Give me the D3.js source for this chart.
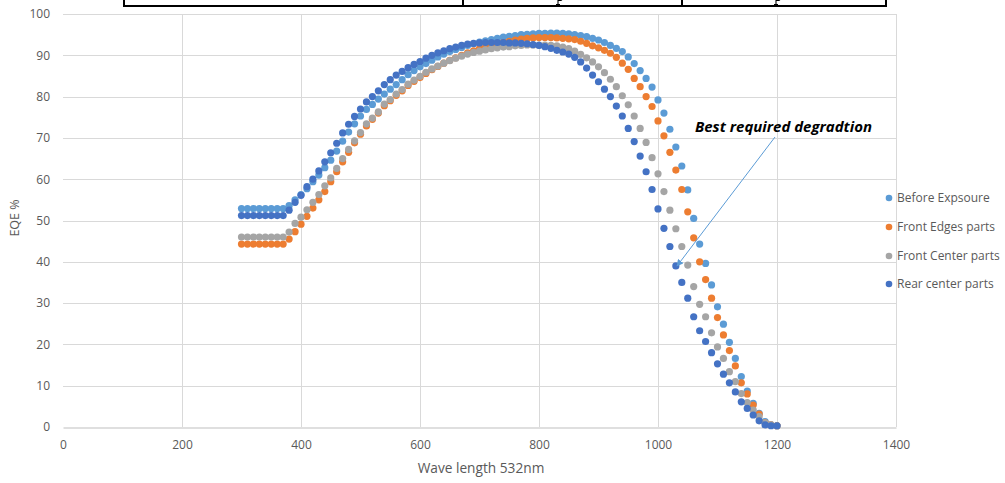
<!DOCTYPE html>
<html>
<head>
<meta charset="utf-8">
<script src="https://cdn.jsdelivr.net/npm/d3@7"></script>
<style>
  body { margin: 0; background: #fff; }
  svg { display: block; }
</style>
</head>
<body>
<div id="chart"></div>
<script>
// wavelengths sampled every 10 nm
const waveLengths = [
  300, 310, 320, 330, 340, 350, 360, 370, 380, 390,
  400, 410, 420, 430, 440, 450, 460, 470, 480, 490,
  500, 510, 520, 530, 540, 550, 560, 570, 580, 590,
  600, 610, 620, 630, 640, 650, 660, 670, 680, 690,
  700, 710, 720, 730, 740, 750, 760, 770, 780, 790,
  800, 810, 820, 830, 840, 850, 860, 870, 880, 890,
  900, 910, 920, 930, 940, 950, 960, 970, 980, 990,
  1000, 1010, 1020, 1030, 1040, 1050, 1060, 1070, 1080, 1090,
  1100, 1110, 1120, 1130, 1140, 1150, 1160, 1170, 1180, 1190,
  1200
];

const beforeExposure = [
  52.9, 52.9, 52.9, 52.9, 52.9, 52.9, 52.9, 52.9, 53.6, 55.0,
  56.3, 57.7, 59.4, 61.0, 62.8, 64.6, 66.8, 69.2, 71.4, 73.4,
  75.3, 76.9, 78.1, 79.4, 80.6, 81.8, 82.9, 84.1, 85.3, 86.3,
  87.2, 88.0, 88.8, 89.6, 90.3, 90.9, 91.4, 91.9, 92.4, 92.8,
  93.2, 93.5, 93.8, 94.1, 94.4, 94.6, 94.8, 95.0, 95.1, 95.2,
  95.3, 95.3, 95.4, 95.4, 95.3, 95.2, 95.0, 94.8, 94.5, 94.1,
  93.7, 93.1, 92.4, 91.7, 90.9, 89.6, 88.0, 86.3, 84.4, 82.3,
  79.2, 76.0, 72.1, 67.8, 63.2, 57.4, 50.5, 44.3, 39.6, 34.4,
  29.1, 24.9, 20.5, 16.6, 12.2, 8.7, 5.7, 3.3, 1.3, 0.5,
  0.3
];

const frontEdges = [
  44.3, 44.3, 44.3, 44.3, 44.3, 44.3, 44.3, 44.3, 45.5, 47.3,
  49.1, 51.0, 53.0, 55.0, 57.0, 59.4, 61.8, 64.2, 66.5, 68.8,
  70.9, 72.9, 74.5, 76.0, 77.8, 79.0, 80.3, 81.4, 82.7, 83.7,
  84.6, 85.6, 86.5, 87.3, 88.1, 88.8, 89.4, 90.0, 90.6, 91.1,
  91.6, 92.0, 92.4, 92.8, 93.1, 93.4, 93.7, 93.9, 94.1, 94.2,
  94.3, 94.3, 94.3, 94.2, 94.1, 94.0, 93.8, 93.4, 92.9, 92.3,
  91.8, 91.2, 90.5, 89.5, 88.1, 86.6, 84.4, 82.4, 80.0, 77.6,
  74.1, 70.5, 66.5, 62.2, 57.5, 52.1, 45.8, 40.0, 35.7, 31.2,
  26.5, 22.3, 18.5, 14.8, 10.7, 8.0, 5.3, 3.1, 1.0, 0.5,
  0.3
];

const frontCenter = [
  46.0, 46.0, 46.0, 46.0, 46.0, 46.0, 46.0, 46.0, 47.2, 49.3,
  50.8, 52.6, 54.4, 56.3, 58.4, 60.3, 62.6, 65.0, 67.2, 69.3,
  71.3, 73.4, 74.8, 76.3, 78.2, 79.3, 80.6, 81.7, 83.0, 84.0,
  84.9, 85.9, 86.7, 87.4, 88.1, 88.7, 89.3, 89.8, 90.3, 90.7,
  91.0, 91.3, 91.6, 91.8, 92.0, 92.1, 92.3, 92.4, 92.5, 92.5,
  92.5, 92.5, 92.4, 92.3, 92.0, 91.6, 91.0, 90.2, 89.4, 88.4,
  87.2, 85.8, 84.2, 82.4, 80.2, 78.0, 75.3, 72.3, 68.9, 65.2,
  61.3, 57.0, 52.5, 48.0, 43.7, 39.2, 34.0, 29.7, 26.7, 22.8,
  19.4, 16.6, 13.4, 11.0, 8.1, 5.9, 4.1, 2.5, 1.0, 0.5,
  0.3
];

const rearCenter = [
  51.2, 51.2, 51.2, 51.2, 51.2, 51.2, 51.2, 51.2, 52.5, 54.4,
  56.1, 58.2, 60.0, 62.0, 64.2, 66.4, 68.7, 71.2, 73.3, 75.2,
  77.0, 78.7, 80.0, 81.4, 82.9, 84.1, 85.2, 86.1, 87.0, 87.8,
  88.5, 89.3, 90.0, 90.6, 91.1, 91.6, 92.0, 92.4, 92.7, 92.9,
  93.0, 93.1, 93.1, 93.1, 93.1, 93.0, 93.0, 92.9, 92.8, 92.6,
  92.4, 92.1, 91.7, 91.2, 90.8, 90.3, 89.5, 88.4, 86.9, 85.2,
  83.6, 81.8, 80.0, 77.7, 75.3, 72.3, 69.1, 65.6, 61.8, 57.5,
  52.8, 48.1, 43.7, 39.0, 35.0, 31.2, 26.7, 23.3, 20.7, 18.0,
  15.3, 12.8, 10.7, 8.5, 6.1, 4.5, 2.9, 1.5, 0.5, 0.3,
  0.3
];

const seriesNames = ["Before Expsoure", "Front Edges parts", "Front Center parts", "Rear center parts"];
const seriesColors = ["#5b9bd5", "#ed7d31", "#a5a5a5", "#4472c4"];
const seriesValues = [beforeExposure, frontEdges, frontCenter, rearCenter];

const xTicks = [0, 200, 400, 600, 800, 1000, 1200, 1400];
const yTicks = [0, 10, 20, 30, 40, 50, 60, 70, 80, 90, 100];

const width = 1005, height = 483;
const font = "'Open Sans', 'DejaVu Sans', sans-serif";

const svg = d3.select("#chart")
  .append("svg")
  .attr("width", width)
  .attr("height", height);

// scales
const x = d3.scaleLinear().domain([0, 1400]).range([63, 896]);
const y = d3.scaleLinear().domain([0, 100]).range([427, 14]);

// bottom edge of the table that sits above the figure (cropped)
const tbl = svg.append("g").attr("stroke", "#000").attr("stroke-width", 2);
tbl.append("line").attr("x1", 123).attr("x2", 887).attr("y1", 6).attr("y2", 6);
[124, 463, 682, 886].forEach(function(px) {
  tbl.append("line").attr("x1", px).attr("x2", px).attr("y1", 0).attr("y2", 6);
});
// cut-off descenders of the table's text
[558, 776].forEach(function(px) {
  svg.append("path")
    .attr("d", `M${px},0V4M${px - 2},4.5H${px + 2}M${px},0.5q3,0 4,-0.5`)
    .attr("fill", "none")
    .attr("stroke", "#000")
    .attr("stroke-width", 1.1);
});

// gridlines
const grid = svg.append("g").attr("stroke", "#d9d9d9").attr("stroke-width", 1);
yTicks.filter(d => d > 0).forEach(function(d) {
  grid.append("line")
    .attr("x1", x(0)).attr("x2", x(1400))
    .attr("y1", Math.round(y(d)) + 0.5).attr("y2", Math.round(y(d)) + 0.5);
});
xTicks.filter(d => d > 0).forEach(function(d) {
  grid.append("line")
    .attr("x1", Math.round(x(d)) + 0.5).attr("x2", Math.round(x(d)) + 0.5)
    .attr("y1", y(100)).attr("y2", y(0));
});

// x axis
const xAxis = svg.append("g")
  .attr("transform", `translate(0,${Math.round(y(0)) + 0.5})`)
  .call(d3.axisBottom(x).tickValues(xTicks).tickFormat(d3.format("d")).tickSize(0).tickPadding(13));
xAxis.select(".domain").attr("stroke", "#bfbfbf");
xAxis.selectAll("text")
  .attr("fill", "#595959")
  .attr("font-family", font)
  .attr("font-size", 12);

// y axis
const yAxis = svg.append("g")
  .attr("transform", `translate(${x(0)},0)`)
  .call(d3.axisLeft(y).tickValues(yTicks).tickSize(0).tickPadding(13));
yAxis.select(".domain").remove();
yAxis.selectAll("text")
  .attr("fill", "#595959")
  .attr("font-family", font)
  .attr("font-size", 12);

// axis titles
svg.append("text")
  .attr("x", 481).attr("y", 473)
  .attr("text-anchor", "middle")
  .attr("fill", "#595959")
  .attr("font-family", font)
  .attr("font-size", 13.7)
  .text("Wave length 532nm");

svg.append("text")
  .attr("transform", "translate(19,218) rotate(-90)")
  .attr("text-anchor", "middle")
  .attr("fill", "#595959")
  .attr("font-family", font)
  .attr("font-size", 12.5)
  .text("EQE %");

// data points
seriesValues.forEach(function(vals, i) {
  svg.append("g")
    .selectAll("circle")
    .data(waveLengths)
    .enter()
    .append("circle")
      .attr("cx", d => x(d))
      .attr("cy", (d, j) => y(vals[j]))
      .attr("r", 3.6)
      .attr("fill", seriesColors[i]);
});

// annotation
svg.append("defs").append("marker")
  .attr("id", "arrow")
  .attr("viewBox", "0 0 10 10")
  .attr("refX", 9).attr("refY", 5)
  .attr("markerWidth", 7).attr("markerHeight", 7)
  .attr("orient", "auto")
  .append("path")
    .attr("d", "M0,0L10,5L0,10z")
    .attr("fill", "#5b9bd5");

svg.append("line")
  .attr("x1", 775).attr("y1", 137)
  .attr("x2", 677).attr("y2", 266)
  .attr("stroke", "#5b9bd5")
  .attr("stroke-width", 1)
  .attr("marker-end", "url(#arrow)");

svg.append("text")
  .attr("x", 695).attr("y", 132)
  .attr("textLength", 177)
  .attr("lengthAdjust", "spacingAndGlyphs")
  .attr("font-family", font)
  .attr("font-size", 14.5)
  .attr("font-weight", "bold")
  .attr("font-style", "italic")
  .attr("fill", "#000")
  .text("Best required degradtion");

// legend
const legend = svg.append("g");
const legendY = [198, 227, 256, 284];
seriesNames.forEach(function(name, i) {
  legend.append("circle")
    .attr("cx", 889).attr("cy", legendY[i])
    .attr("r", 3.3)
    .attr("fill", seriesColors[i]);
  legend.append("text")
    .attr("x", 897).attr("y", legendY[i])
    .attr("dy", "0.35em")
    .attr("fill", "#595959")
    .attr("font-family", font)
    .attr("font-size", 12)
    .text(name);
});
</script>
</body>
</html>
